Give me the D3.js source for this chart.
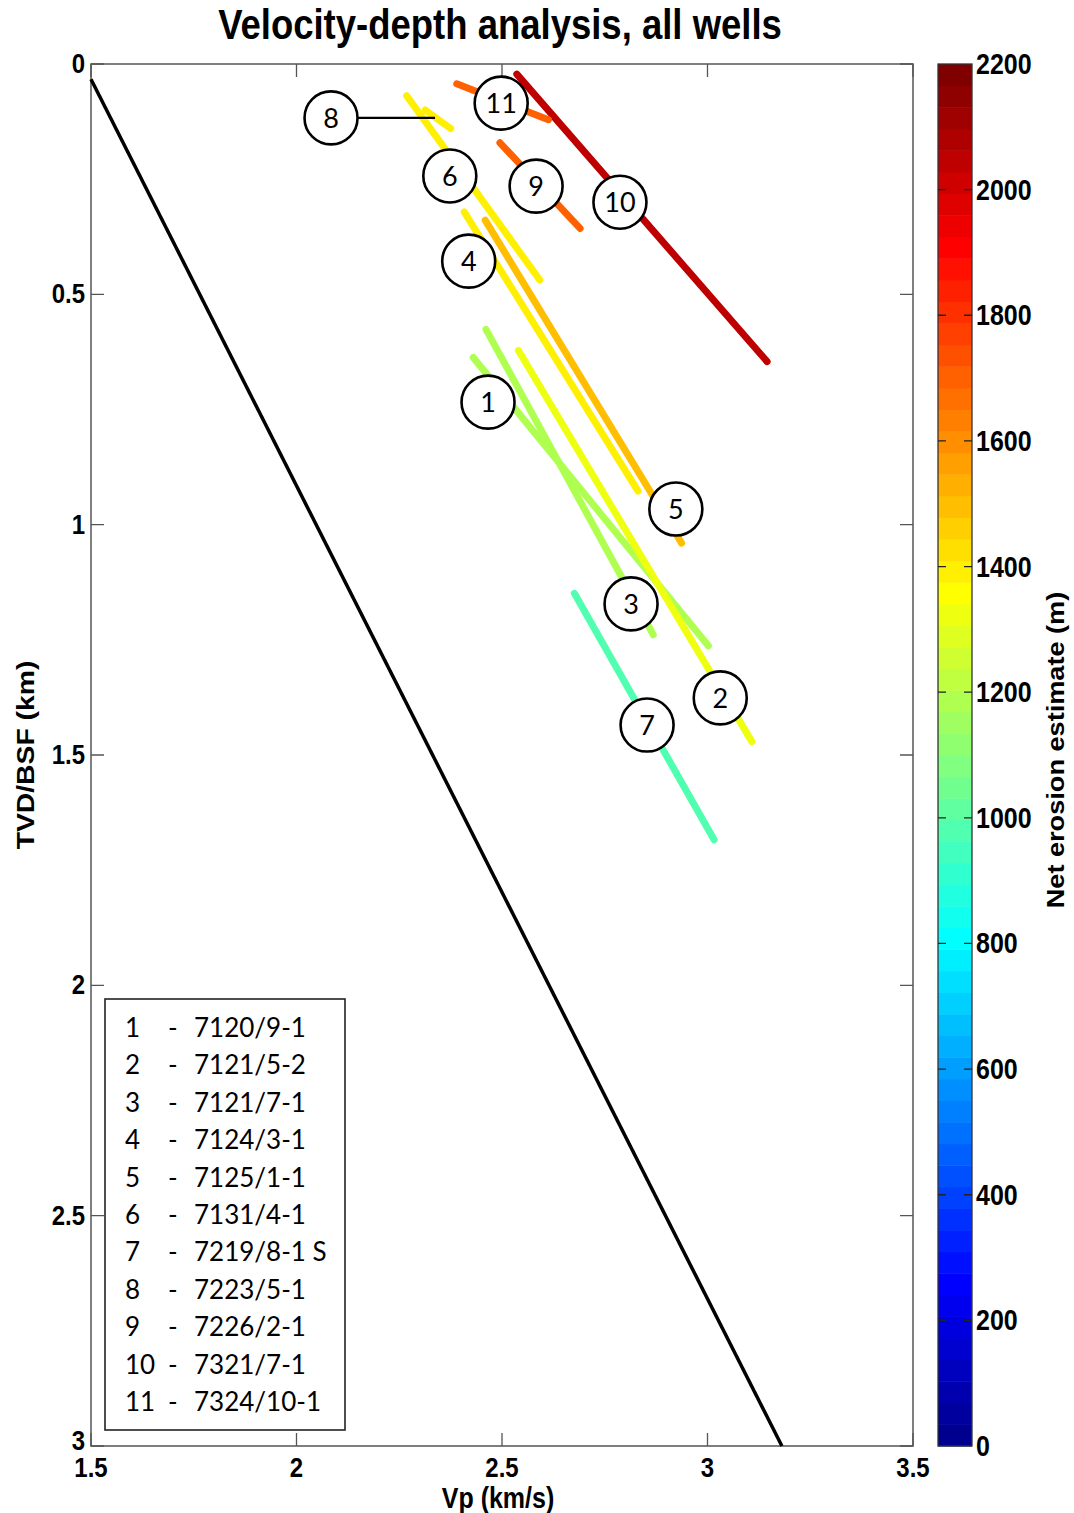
<!DOCTYPE html>
<html>
<head>
<meta charset="utf-8">
<script src="https://cdn.jsdelivr.net/npm/d3@7"></script>
<style>
  body { margin: 0; background: #fff; }
  svg { display: block; }
  .tick-lbl { font-family: "Liberation Sans", Arial, sans-serif; font-weight: bold; font-size: 24px; fill: #000; }
  .well-lbl { font-family: Lato, "Open Sans", sans-serif; font-size: 26px; fill: #000; }
</style>
</head>
<body>
<svg id="chart" width="1074" height="1513"></svg>
<script>
'use strict'

// well list (legend)
const wellNums = [1, 2, 3, 4, 5, 6, 7, 8, 9, 10, 11]
const wellNames = ['7120/9-1', '7121/5-2', '7121/7-1', '7124/3-1', '7125/1-1', '7131/4-1',
  '7219/8-1 S', '7223/5-1', '7226/2-1', '7321/7-1', '7324/10-1']

// net erosion estimate (m) -> line colour
const erosion = [1185, 1320, 1185, 1390, 1490, 1390, 980, 1390, 1700, 2050, 1700]

// velocity-depth trend segments, per well
const vpTop = [2.430, 2.540, 2.461, 2.408, 2.459, 2.268, 2.676, 2.313, 2.495, 2.536, 2.390]
const vpBase = [3.002, 3.108, 2.868, 2.831, 2.937, 2.592, 3.016, 2.375, 2.690, 3.145, 2.613]
const depthTop = [0.637, 0.622, 0.576, 0.321, 0.339, 0.069, 1.149, 0.100, 0.171, 0.022, 0.043]
const depthBase = [1.263, 1.471, 1.239, 0.927, 1.040, 0.469, 1.684, 0.140, 0.357, 0.646, 0.121]

// circled number positions
const labelVp = [2.466, 3.031, 2.814, 2.419, 2.923, 2.373, 2.853, 2.084, 2.583, 2.787, 2.498]
const labelDepth = [0.734, 1.376, 1.172, 0.428, 0.966, 0.243, 1.435, 0.117, 0.265, 0.300, 0.085]
const leaderEndVp = 2.337   // well 8 has a pointer line to its short segment

// reference (no erosion) trend
const refVp = [1.5, 3.181]
const refDepth = [0.033, 3.0]

const xTicks = [1.5, 2, 2.5, 3, 3.5]
const yTicks = [0, 0.5, 1, 1.5, 2, 2.5, 3]
const cTicks = [0, 200, 400, 600, 800, 1000, 1200, 1400, 1600, 1800, 2000, 2200]

// matlab jet(n)
function jet(n) {
  const m = Math.ceil(n / 4)
  const u = []
  for (let i = 1; i <= m; i++) u.push(i / m)
  for (let i = 1; i < m; i++) u.push(1)
  for (let i = m; i >= 1; i--) u.push(i / m)
  const g0 = Math.ceil(m / 2) - (n % 4 === 1 ? 1 : 0)
  const J = d3.range(n).map(() => [0, 0, 0])
  u.forEach((val, i) => {
    const g = g0 + i + 1, r = g + m, b = g - m
    if (g >= 1 && g <= n) J[g - 1][1] = val
    if (r >= 1 && r <= n) J[r - 1][0] = val
    if (b >= 1 && b <= n) J[b - 1][2] = val
  })
  return J.map(c => d3.rgb(c[0] * 255, c[1] * 255, c[2] * 255).formatHex())
}

const nLevels = 64
const cmap = jet(nLevels)
const cMin = 0, cMax = 2200
const colorOf = v => {
  let k = Math.floor((v - cMin) / (cMax - cMin) * nLevels)
  return cmap[Math.max(0, Math.min(nLevels - 1, k))]
}

const svg = d3.select('#chart')
const plot = { left: 91, right: 913, top: 64, bottom: 1446 }
const x = d3.scaleLinear().domain([1.5, 3.5]).range([plot.left, plot.right])
const y = d3.scaleLinear().domain([0, 3]).range([plot.top, plot.bottom])
const frameCol = '#555'
const tickLen = 13
const stretch = 1.18   // the figure's fonts look stretched along their height

// helper for the stretched bold labels
const label = (g, tx, ty, txt, anchor, rot) => g.append('text')
  .attr('class', 'tick-lbl')
  .attr('text-anchor', anchor || 'start')
  .attr('transform', 'translate(' + tx + ',' + ty + ')' +
    (rot ? ' rotate(-90) scale(' + stretch + ',1)' : ' scale(1,' + stretch + ')'))
  .text(txt)

// title
label(svg, 500, 39, 'Velocity-depth analysis, all wells', 'middle')
  .style('font-size', '36.5px')

// frame + ticks (matlab box style, ticks inward on all sides)
const axes = svg.append('g')
axes.append('rect')
  .attr('x', plot.left).attr('y', plot.top)
  .attr('width', plot.right - plot.left).attr('height', plot.bottom - plot.top)
  .attr('fill', 'none').attr('stroke', frameCol).attr('stroke-width', 1.5)

axes.selectAll('.xt').data(xTicks).enter().append('path')
  .attr('d', d => 'M' + x(d) + ',' + plot.bottom + 'v' + (-tickLen) + 'M' + x(d) + ',' + plot.top + 'v' + tickLen)
  .attr('stroke', frameCol).attr('stroke-width', 1.3)
axes.selectAll('.yt').data(yTicks).enter().append('path')
  .attr('d', d => 'M' + plot.left + ',' + y(d) + 'h' + tickLen + 'M' + plot.right + ',' + y(d) + 'h' + (-tickLen))
  .attr('stroke', frameCol).attr('stroke-width', 1.3)

xTicks.forEach(d => label(axes, x(d), plot.bottom + 31, d, 'middle'))
yTicks.forEach(d => label(axes, plot.left - 6, y(d) + (d === 3 ? 4 : 9), d, 'end'))

label(svg, 498, 1508, 'Vp (km/s)', 'middle').style('font-size', '25px')
label(svg, 34, 755, 'TVD/BSF (km)', 'middle', true)

// reference trend
const line = d3.line().x(d => x(d[0])).y(d => y(d[1]))
svg.append('path')
  .datum(refVp.map((v, i) => [v, refDepth[i]]))
  .attr('d', line)
  .attr('fill', 'none').attr('stroke', '#000').attr('stroke-width', 3.5)

// well segments
const wells = wellNums.map((n, i) => ({
  n: n, name: wellNames[i], e: erosion[i],
  pts: [[vpTop[i], depthTop[i]], [vpBase[i], depthBase[i]]],
  lx: labelVp[i], ly: labelDepth[i]
}))

svg.append('g').selectAll('path')
  .data(wells).enter().append('path')
  .attr('d', d => line(d.pts))
  .attr('fill', 'none')
  .attr('stroke', d => colorOf(d.e))
  .attr('stroke-width', 7)
  .attr('stroke-linecap', 'round')

// pointer for well 8
const w8 = wells[7]
svg.append('line')
  .attr('x1', x(w8.lx)).attr('y1', y(w8.ly))
  .attr('x2', x(leaderEndVp)).attr('y2', y(w8.ly))
  .attr('stroke', '#000').attr('stroke-width', 2.2)

// circled numbers
const marks = svg.append('g').selectAll('g')
  .data(wells).enter().append('g')
  .attr('transform', d => 'translate(' + x(d.lx) + ',' + y(d.ly) + ')')
marks.append('circle')
  .attr('r', 26.5)
  .attr('fill', '#fff').attr('stroke', '#000').attr('stroke-width', 2.6)
marks.append('text')
  .attr('class', 'well-lbl')
  .attr('text-anchor', 'middle')
  .attr('y', 10)
  .style('font-size', '27px')
  .text(d => d.n)

// legend
const lg = svg.append('g').attr('transform', 'translate(105,999)')
lg.append('rect')
  .attr('width', 240).attr('height', 431)
  .attr('fill', '#fff').attr('stroke', '#222').attr('stroke-width', 1.6)
const rows = lg.selectAll('.row').data(wells).enter().append('g')
  .attr('transform', (d, i) => 'translate(0,' + (38 + i * 37.4) + ')')
rows.append('text').attr('class', 'well-lbl').attr('x', 20).text(d => d.n)
rows.append('text').attr('class', 'well-lbl').attr('x', 63).text('-')
rows.append('text').attr('class', 'well-lbl').attr('x', 89).text(d => d.name)

// colourbar
const cb = { x: 938, w: 34 }
const cy = d3.scaleLinear().domain([cMin, cMax]).range([plot.bottom, plot.top])
const levelStep = (cMax - cMin) / nLevels
svg.append('g').selectAll('rect')
  .data(cmap).enter().append('rect')
  .attr('x', cb.x).attr('width', cb.w)
  .attr('y', (d, i) => cy(cMin + (i + 1) * levelStep))
  .attr('height', (d, i) => cy(cMin + i * levelStep) - cy(cMin + (i + 1) * levelStep) + 0.5)
  .attr('fill', d => d)
svg.append('rect')
  .attr('x', cb.x).attr('y', plot.top)
  .attr('width', cb.w).attr('height', plot.bottom - plot.top)
  .attr('fill', 'none').attr('stroke', '#333').attr('stroke-width', 1.3)
svg.append('g').selectAll('path')
  .data(cTicks.slice(1, -1)).enter().append('path')
  .attr('d', d => 'M' + cb.x + ',' + cy(d) + 'h8M' + (cb.x + cb.w) + ',' + cy(d) + 'h-8')
  .attr('stroke', '#222').attr('stroke-width', 1.3)
const cbTicks = svg.append('g')
cTicks.forEach(d => label(cbTicks, cb.x + cb.w + 4, cy(d) + 10, d).style('font-size', '25px'))
label(svg, 1064, 750, 'Net erosion estimate (m)', 'middle', true).style('font-size', '23px')
</script>
</body>
</html>
